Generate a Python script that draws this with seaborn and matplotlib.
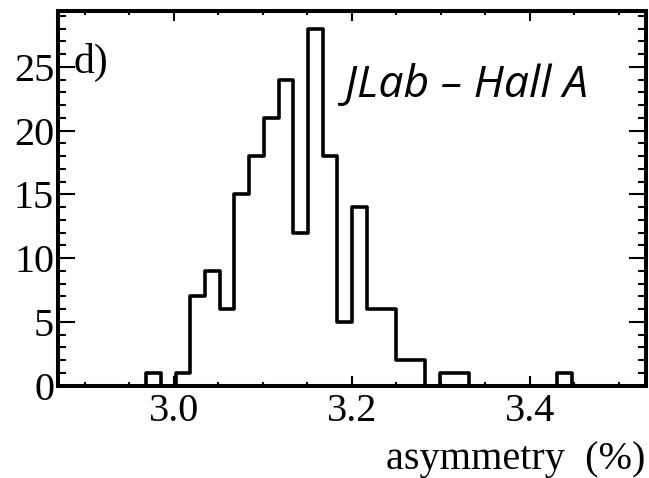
import numpy as np
import pandas as pd
import matplotlib
matplotlib.use("Agg")
import matplotlib.pyplot as plt
from matplotlib.ticker import MultipleLocator, FixedLocator
import seaborn as sns

# ---- data ----
bin_low = 2.87
bin_high = 3.53
n_bins = 40
counts = [0, 0, 0, 0, 0, 0, 1, 0, 1, 7,
          9, 6, 15, 18, 21, 24, 12, 28, 18, 5,
          14, 6, 6, 2, 2, 0, 1, 1, 0, 0,
          0, 0, 0, 0, 1, 0, 0, 0, 0, 0]
x_ticks = [3.0, 3.2, 3.4]
x_tick_labels = ["3.0", "3.2", "3.4"]
y_ticks = [0, 5, 10, 15, 20, 25]
x_label = "asymmetry  (%)"
panel_label = "d)"
lab_label = "JLab – Hall A"

edges = np.linspace(bin_low, bin_high, n_bins + 1)
centers = 0.5 * (edges[:-1] + edges[1:])
df = pd.DataFrame({"asym": centers, "n": counts})

sns.set_style("ticks")
plt.rcParams["font.family"] = ["Liberation Serif", "DejaVu Serif"]
plt.rcParams["text.color"] = "black"
plt.rcParams["axes.labelcolor"] = "black"

fig = plt.figure(figsize=(6.49, 4.78), dpi=100)
ax = fig.add_axes([58.3 / 649, 1 - 385.7 / 478, (645.5 - 58.3) / 649, (385.7 - 10.7) / 478])

sns.histplot(data=df, x="asym", weights="n", bins=n_bins, binrange=(bin_low, bin_high),
             element="step", fill=False, color="black", linewidth=2.6, ax=ax)

ax.set_xlim(bin_low, bin_high)
ax.set_ylim(0, 29.4)

for s in ax.spines.values():
    s.set_linewidth(2.9)
    s.set_color("black")

ax.xaxis.set_major_locator(FixedLocator(x_ticks))
ax.set_xticklabels(x_tick_labels)
ax.xaxis.set_minor_locator(MultipleLocator(0.05))
ax.yaxis.set_major_locator(FixedLocator(y_ticks))
ax.yaxis.set_minor_locator(MultipleLocator(1))

ax.tick_params(axis="both", which="both", direction="in", top=True, right=True,
               colors="black", labelsize=29)
ax.tick_params(axis="x", which="major", length=7.5, width=1.5, pad=5)
ax.tick_params(axis="x", which="minor", length=3.2, width=1.5)
ax.tick_params(axis="y", which="major", length=12, width=1.5, pad=3)
ax.tick_params(axis="y", which="minor", length=5.8, width=1.5)

ax.set_ylabel("")
ax.set_xlabel(x_label, fontsize=29, loc="right", labelpad=8, color="black")

ax.text(0.026, 0.862, panel_label, transform=ax.transAxes, fontsize=30,
        ha="left", va="center", color="black")
ax.text(0.488, 0.80, lab_label, transform=ax.transAxes, fontsize=32,
        ha="left", va="center", style="italic", color="black",
        family=["Open Sans", "DejaVu Sans"])

fig.savefig("out.png", dpi=100)
